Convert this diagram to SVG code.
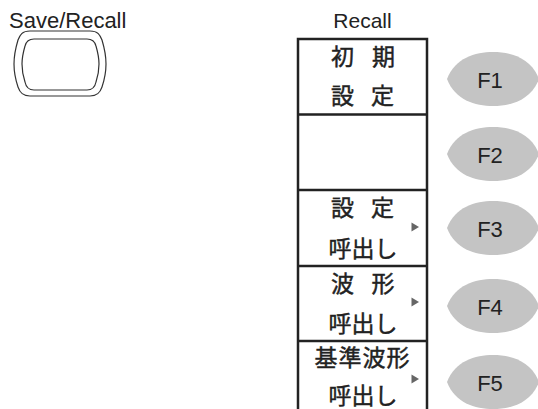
<svg xmlns="http://www.w3.org/2000/svg" width="538" height="409" viewBox="0 0 538 409">
<style>
.lbl{font-family:"Liberation Sans",Arial,sans-serif;font-size:21px;fill:#222}
.jp{font-family:"Noto Sans CJK JP","Noto Sans CJK SC",sans-serif;font-size:23px;fill:#222;stroke:#222;stroke-width:0.45;text-anchor:middle}
.fk{fill:#c4c4c4}
.ft{font-family:"Liberation Sans",Arial,sans-serif;font-size:22px;fill:#222;text-anchor:middle}
.box{fill:none;stroke:#222;stroke-width:2.5}
.btn{fill:none;stroke:#333;stroke-width:1.2}
.tri{fill:#666}
</style>
<rect width="538" height="409" fill="#fff"/>
<g id="save-recall">
<text class="lbl" x="9" y="28" style="font-size:22px">Save/Recall</text>
<path class="btn" d="M30,31 H90 C98,31 100,35 102,40 C105,50 106,58 106,64 C106,70 105,78 102,87 C100,93 97,96 90,96 H30 C23,96 20,93 18,87 C15,78 14,70 14,64 C14,58 15,50 18,40 C20,35 22,31 30,31 Z"/>
<path class="btn" d="M34,39 H87 C93,39 95,42 96,46 C98,53 99,58 99,64 C99,70 98,76 96,82 C95,87 92,90 87,90 H34 C29,90 26,87 25,82 C23,76 22,70 22,64 C22,58 23,53 25,46 C26,42 29,39 34,39 Z"/>
</g>
<g id="menu">
<text class="lbl" x="362.5" y="28" text-anchor="middle">Recall</text>
<path class="box" d="M298,409 V39 H427 V409 M298,114.5 H427 M298,190 H427 M298,266 H427 M298,341 H427"/>
</g>
<g id="menu-f1">
<text class="jp" x="342.5 362.5 383.5" y="64.5">初 期</text>
<text class="jp" x="342.5 362.5 382.5" y="103.5">設 定</text>
</g>
<g id="menu-f2"></g>
<g id="menu-f3">
<text class="jp" x="342.5 362.5 382.5" y="215.5">設 定</text>
<text class="jp" x="363" y="256.5">呼出し</text>
<path class="tri" d="M411.5,222.5 L419,227 L411.5,231.5 Z"/>
</g>
<g id="menu-f4">
<text class="jp" x="342.5 362.5 383" y="291.5">波 形</text>
<text class="jp" x="363" y="331.5">呼出し</text>
<path class="tri" d="M411.5,297.5 L419,302 L411.5,306.5 Z"/>
</g>
<g id="menu-f5">
<text class="jp" x="362.5" y="365.5" letter-spacing="1">基準波形</text>
<text class="jp" x="363" y="403.5">呼出し</text>
<path class="tri" d="M411.5,374.5 L419,379 L411.5,383.5 Z"/>
</g>
<g id="F1"><path class="fk" d="M447,79 C455,58 475,52 493,52 C511,52 531,58 539,79 C531,100 511,106 493,106 C475,106 455,100 447,79 Z"/><text class="ft" x="490" y="88">F1</text></g>
<g id="F2"><path class="fk" d="M447,154 C455,133 475,127 493,127 C511,127 531,133 539,154 C531,175 511,181 493,181 C475,181 455,175 447,154 Z"/><text class="ft" x="490" y="163">F2</text></g>
<g id="F3"><path class="fk" d="M447,228 C455,207 475,201 493,201 C511,201 531,207 539,228 C531,249 511,255 493,255 C475,255 455,249 447,228 Z"/><text class="ft" x="490" y="237">F3</text></g>
<g id="F4"><path class="fk" d="M447,306 C455,285 475,279 493,279 C511,279 531,285 539,306 C531,327 511,333 493,333 C475,333 455,327 447,306 Z"/><text class="ft" x="490" y="315">F4</text></g>
<g id="F5"><path class="fk" d="M447,382 C455,361 475,355 493,355 C511,355 531,361 539,382 C531,403 511,409 493,409 C475,409 455,403 447,382 Z"/><text class="ft" x="490" y="391">F5</text></g>
<g id="connectors"></g>
</svg>
